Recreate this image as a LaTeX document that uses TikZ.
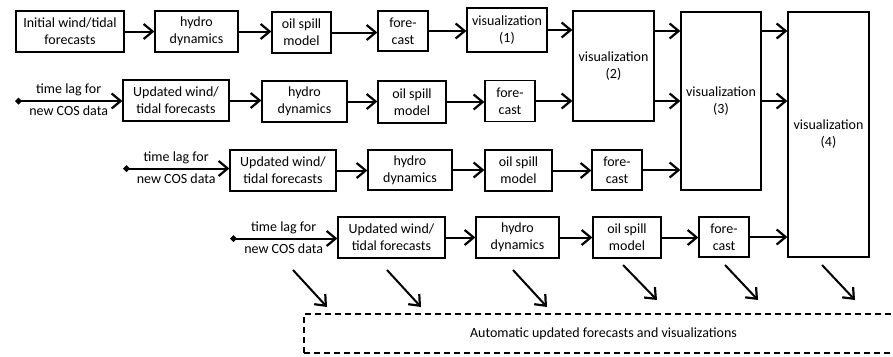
\documentclass[tikz,border=0pt]{standalone}
\usepackage{fontspec}
\setmainfont{Carlito}
\usepackage{tikz}
\usetikzlibrary{arrows.meta,positioning}

\tikzset{
  box/.style={draw, line width=1.3pt, align=center, inner sep=0pt,
    minimum height=41pt, font=\fontsize{14}{17}\selectfont},
  arr/.style={line width=2pt, -{Straight Barb[length=9pt, width=15pt, line width=2.2pt]}},
  lag/.style={line width=2pt, {Diamond[length=7pt, width=7pt]}-{Straight Barb[length=9pt, width=15pt, line width=2.2pt]}},
  lbl/.style={font=\fontsize{14}{17}\selectfont, inner sep=4pt}
}

\begin{document}
\begin{tikzpicture}[x=1pt, y=-1pt]
    \useasboundingbox (0,0) rectangle (893,356);
    \clip (0,0) rectangle (893,356);

    % First run
    \node[box, minimum width=108pt] (init) at (70,31.5) {Initial wind/tidal\\forecasts};
    \node[box, minimum width=83pt]  (hyd1) at (196.5,31.5) {hydro\\dynamics};
    \node[box, minimum width=59pt]  (oil1) at (301.5,32.5) {oil spill\\model};
    \node[box, minimum width=50pt, minimum height=40pt] (fc1) at (403,31) {fore-\\cast};
    \node[box, minimum width=80pt, minimum height=44pt] (vis1) at (507,30) {visualization\\(1)};

    % Visualizations growing over the runs
    \node[box, minimum width=81pt, minimum height=110pt] (vis2) at (613.5,66) {visualization\\(2)};
    \node[box, minimum width=80pt, minimum height=178pt] (vis3) at (721,101) {visualization\\(3)};
    \node[box, minimum width=81pt, minimum height=245pt] (vis4) at (828.5,134.5) {visualization\\(4)};

    % Second run
    \coordinate (lag2) at (15,101);
    \node[box, minimum width=106pt] (upd2) at (176,100.5) {Updated wind/\\tidal forecasts};
    \node[box, minimum width=85pt]  (hyd2) at (304.5,101.5) {hydro\\dynamics};
    \node[box, minimum width=68pt, minimum height=42pt] (oil2) at (412,102) {oil spill\\model};
    \node[box, minimum width=50pt]  (fc2) at (510,101) {fore-\\cast};

    % Third run
    \coordinate (lag3) at (123,168.5);
    \node[box, minimum width=106pt] (upd3) at (283,170.5) {Updated wind/\\tidal forecasts};
    \node[box, minimum width=84pt, minimum height=40pt] (hyd3) at (410,170) {hydro\\dynamics};
    \node[box, minimum width=67pt]  (oil3) at (518.5,170.5) {oil spill\\model};
    \node[box, minimum width=50pt, minimum height=40pt] (fc3) at (617,170) {fore-\\cast};

    % Fourth run
    \coordinate (lag4) at (230,238.5);
    \node[box, minimum width=107pt] (upd4) at (391.5,237.5) {Updated wind/\\tidal forecasts};
    \node[box, minimum width=83pt]  (hyd4) at (517.5,237.5) {hydro\\dynamics};
    \node[box, minimum width=68pt]  (oil4) at (627,237.5) {oil spill\\model};
    \node[box, minimum width=50pt, minimum height=40pt] (fc4) at (724,237) {fore-\\cast};

    % Collected output
    \node[box, line width=1.2pt, dash pattern=on 6pt off 4pt, minimum width=599pt, minimum height=39pt] (auto) at (603.5,333.5)
        {Automatic updated forecasts and visualizations};

    % Chain of each run
    \draw[arr] (init) -- (hyd1);
    \draw[arr] (hyd1) -- (hyd1 -| oil1.west);
    \draw[arr] (oil1) -- (oil1 -| fc1.west);
    \draw[arr] (fc1) -- (fc1 -| vis1.west);
    \draw[arr] (vis1) -- (vis1 -| vis2.west);

    \draw[lag] (lag2) -- node[lbl, above] {time lag for} node[lbl, below] {new COS data} (lag2 -| upd2.west);
    \draw[arr] (upd2) -- (upd2 -| hyd2.west);
    \draw[arr] (hyd2) -- (hyd2 -| oil2.west);
    \draw[arr] (oil2) -- (oil2 -| fc2.west);
    \draw[arr] (fc2) -- (fc2 -| vis2.west);

    \draw[lag] (lag3) -- node[lbl, above] {time lag for} node[lbl, below] {new COS data} (lag3 -| upd3.west);
    \draw[arr] (upd3) -- (upd3 -| hyd3.west);
    \draw[arr] (hyd3) -- (hyd3 -| oil3.west);
    \draw[arr] (oil3) -- (oil3 -| fc3.west);
    \draw[arr] (fc3) -- (fc3 -| vis3.west);

    \draw[lag] (lag4) -- node[lbl, above] {time lag for} node[lbl, below] {new COS data} (lag4 -| upd4.west);
    \draw[arr] (upd4) -- (upd4 -| hyd4.west);
    \draw[arr] (hyd4) -- (hyd4 -| oil4.west);
    \draw[arr] (oil4) -- (oil4 -| fc4.west);
    \draw[arr] (fc4) -- (fc4 -| vis4.west);

    % Visualizations passed on
    \draw[arr] (vis2.east |- fc1) -- (vis3.west |- fc1);
    \draw[arr] (vis2.east |- fc2) -- (vis3.west |- fc2);
    \draw[arr] (vis3.east |- fc1) -- (vis4.west |- fc1);
    \draw[arr] (vis3.east |- fc2) -- (vis4.west |- fc2);

    % Arrows down to the collected output
    \foreach \i/\xa/\ya/\xb/\yb in {1/293/270/327/307, 2/387/270/421/307, 3/513/270/547/307,
                                   4/623/265/657/300, 5/725/265/758/300, 6/822/265/855/300} {
        \coordinate (d\i) at (\xa,\ya);
        \coordinate (e\i) at (\xb,\yb);
        \draw[arr] (d\i) -- (e\i);
    }
\end{tikzpicture}
\end{document}
